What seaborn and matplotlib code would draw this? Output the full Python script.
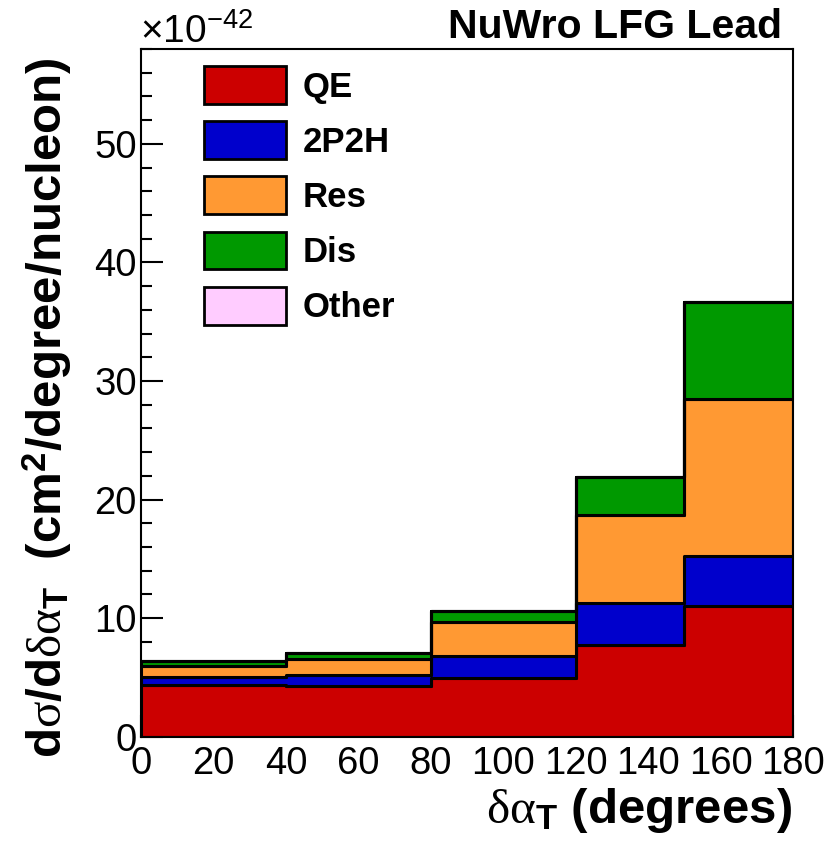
import numpy as np
import pandas as pd
import matplotlib
matplotlib.use("Agg")
import matplotlib.pyplot as plt
import seaborn as sns
from matplotlib.patches import Patch
from matplotlib.ticker import MultipleLocator

# ---- data (units of 1e-42 cm^2/degree/nucleon) ----
bin_edges = [0, 40, 80, 120, 150, 180]
components = ["QE", "2P2H", "Res", "Dis", "Other"]
qe = [4.36, 4.27, 4.92, 7.73, 11.01]
twop2h = [0.64, 0.90, 1.88, 3.56, 4.21]
res = [0.96, 1.40, 2.89, 7.39, 13.28]
dis = [0.42, 0.45, 0.87, 3.22, 8.20]
other = [0.0, 0.0, 0.0, 0.0, 0.0]
colors = {"QE": "#cc0000", "2P2H": "#0000cc", "Res": "#ff9933",
          "Dis": "#009900", "Other": "#ffccff"}
title = "NuWro LFG Lead"
x_ticks = [0, 20, 40, 60, 80, 100, 120, 140, 160, 180]
y_ticks = [0, 10, 20, 30, 40, 50]

sns.set_style("ticks")
plt.rcParams["font.family"] = ["Liberation Sans", "DejaVu Sans"]
plt.rcParams["mathtext.fontset"] = "custom"
plt.rcParams["mathtext.rm"] = "Liberation Sans:bold"
plt.rcParams["mathtext.bf"] = "Liberation Sans:bold"
plt.rcParams["mathtext.it"] = "Liberation Serif"
plt.rcParams["mathtext.sf"] = "Liberation Sans"
for k in ["text.color", "axes.labelcolor", "xtick.color", "ytick.color", "axes.edgecolor"]:
    plt.rcParams[k] = "black"

centers = [(a + b) / 2 for a, b in zip(bin_edges[:-1], bin_edges[1:])]
series = {"QE": qe, "2P2H": twop2h, "Res": res, "Dis": dis, "Other": other}
rows = []
for comp in components:
    for c, v in zip(centers, series[comp]):
        rows.append({"x": c, "w": v, "comp": comp})
df = pd.DataFrame(rows)

W, H = 831, 842
fig = plt.figure(figsize=(W / 100, H / 100), dpi=100)
left, right, bottom, top = 141, 793, 736.7, 49
ax = fig.add_axes([left / W, 1 - bottom / H, (right - left) / W, (bottom - top) / H])

sns.histplot(data=df, x="x", weights="w", hue="comp",
             hue_order=components[::-1], bins=bin_edges,
             multiple="stack", element="step", palette=colors,
             alpha=1, edgecolor="black", linewidth=2.2, legend=False, ax=ax)

ax.set_xlim(0, 180)
ax.set_ylim(0, 58)
ax.set_xticks(x_ticks)
ax.set_yticks(y_ticks)
ax.xaxis.set_minor_locator(MultipleLocator(5))
ax.yaxis.set_minor_locator(MultipleLocator(2))
ax.tick_params(which="major", direction="in", length=16, width=1.5,
               labelsize=27.5, top=False, right=False, colors="black")
ax.tick_params(axis="x", which="major", pad=7)
ax.tick_params(axis="y", which="major", pad=3)
ax.tick_params(which="minor", direction="in", length=8, width=1.5,
               top=False, right=False, colors="black")
for s in ax.spines.values():
    s.set_linewidth(1.5)
    s.set_color("black")
ax.set_xlabel("")
ax.set_ylabel("")

handles = [Patch(facecolor=colors[c], edgecolor="black", linewidth=2.0, label=c)
           for c in components]
fs_leg = 25
ax.legend(handles=handles, loc="upper left",
          bbox_to_anchor=(204 / W, 1 - 66 / H), bbox_transform=fig.transFigure,
          frameon=False, prop={"weight": "bold", "size": fs_leg},
          handlelength=2.35, handleheight=1.3, handletextpad=0.5,
          labelspacing=0.5, borderpad=0, borderaxespad=0)

fig.text(782 / W, 1 - 38 / H, title, ha="right", va="baseline",
         fontsize=29.5, fontweight="bold")
fig.text(140 / W, 1 - 43 / H, r"$\mathregular{\times10^{-42}}$", ha="left",
         va="baseline", fontsize=28)
fig.text(792 / W, 1 - 823 / H, r"$\delta\alpha_{\mathrm{T}}$ (degrees)",
         ha="right", va="baseline", fontsize=35.5, fontweight="bold")
fig.text(47 / W, 1 - 57 / H,
         r"d$\sigma$/d$\delta\alpha_{\mathrm{T}}$  (cm$^{\mathrm{2}}$/degree/nucleon)",
         rotation=90, ha="center", va="top", fontsize=35.5, fontweight="bold")

fig.savefig("out.png", dpi=100)
